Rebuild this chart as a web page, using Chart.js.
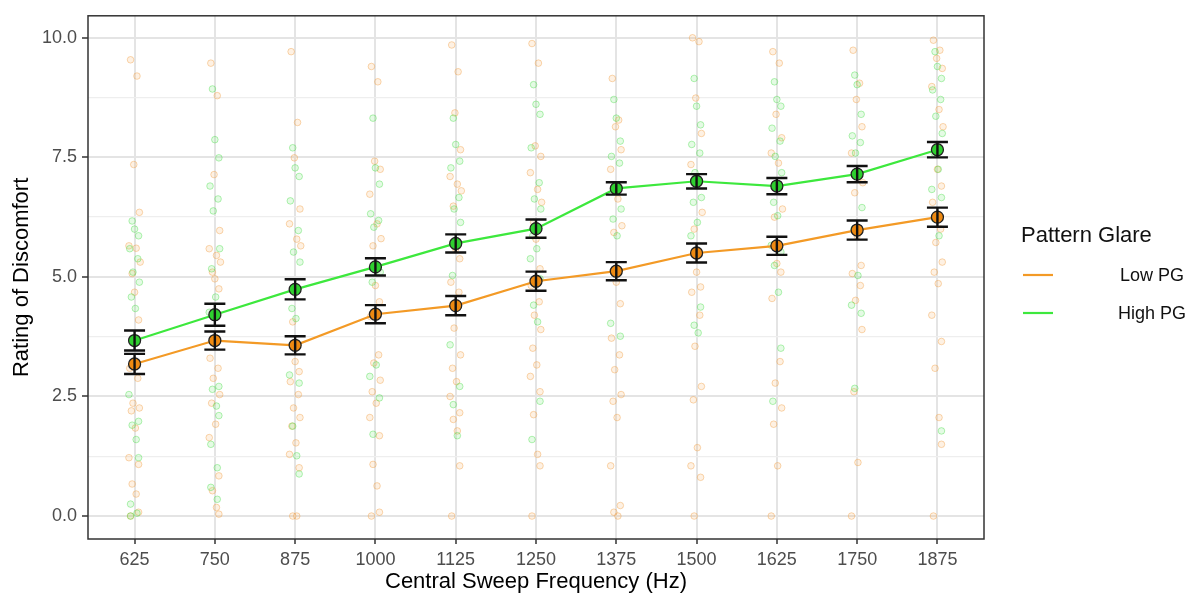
<!DOCTYPE html>
<html>
<head>
<meta charset="utf-8">
<script src="https://cdn.jsdelivr.net/npm/chart.js@4.4.1/dist/chart.umd.min.js"></script>
<style>
  html, body { margin: 0; padding: 0; background: #ffffff; }
  #wrap { width: 1197px; height: 597px; }
</style>
</head>
<body>
<div id="wrap"><canvas id="c" width="1197" height="597"></canvas></div>
<script>
// ---------- data ----------
const frequencies = ['625','750','875','1000','1125','1250','1375','1500','1625','1750','1875'];
const groups = ['Low PG', 'High PG'];
const legendTitle = 'Pattern Glare';

const lowMean  = [3.18, 3.67, 3.57, 4.22, 4.40, 4.91, 5.12, 5.50, 5.65, 5.98, 6.25];
const highMean = [3.67, 4.21, 4.74, 5.21, 5.70, 6.01, 6.85, 7.00, 6.90, 7.15, 7.66];
const lowSE    = [0.21, 0.19, 0.19, 0.19, 0.20, 0.20, 0.19, 0.20, 0.19, 0.20, 0.20];
const highSE   = [0.21, 0.23, 0.21, 0.18, 0.19, 0.19, 0.13, 0.15, 0.17, 0.17, 0.16];

const lowRaw = [
  [9.54,9.20,7.35,6.35,5.65,5.60,5.31,5.07,4.68,4.10,3.09,2.88,2.36,2.26,2.20,1.84,1.22,1.08,0.67,0.46,0.08,0.0],
  [9.47,8.79,7.14,5.97,5.59,5.45,5.31,5.10,4.96,4.75,3.30,3.09,2.88,2.54,2.36,1.92,1.64,0.84,0.53,0.18,0.04],
  [9.71,8.23,7.49,6.42,6.11,5.79,5.65,4.06,3.23,3.02,2.81,2.54,2.26,2.06,1.88,1.53,1.29,1.01,0.0,0.0],
  [9.40,9.08,7.42,7.25,6.73,6.11,5.80,5.65,4.82,4.48,4.17,3.37,3.20,2.84,2.60,2.36,2.06,1.68,1.08,0.63,0.08,0.0],
  [9.85,9.29,8.43,7.66,7.10,6.94,6.80,6.48,5.59,5.38,4.89,4.68,3.93,3.37,3.09,2.81,2.50,2.16,2.02,1.78,1.05,0.0],
  [9.88,9.47,7.74,7.52,7.18,6.83,6.56,6.14,5.79,5.17,4.82,4.48,4.20,3.90,3.51,3.16,2.92,2.60,2.12,1.29,1.05,0.0],
  [9.15,8.28,8.14,7.66,7.25,6.63,6.07,5.93,4.89,4.44,3.72,3.37,3.06,2.54,2.40,2.06,1.05,0.22,0.08,0.0],
  [10.0,9.92,8.74,8.00,7.35,6.97,6.35,6.00,5.10,4.79,4.68,4.20,3.55,2.71,2.43,1.43,1.05,0.81,0.0],
  [9.71,9.47,8.40,7.91,7.59,7.38,6.42,6.25,5.28,5.10,4.55,3.23,2.78,2.26,1.92,1.05,0.0],
  [9.74,9.05,8.71,8.14,7.59,7.10,6.97,6.76,5.86,5.24,5.07,4.82,4.51,3.90,2.60,1.12,0.0],
  [9.95,9.74,9.57,9.36,8.98,8.50,8.14,7.66,7.25,6.90,6.56,6.00,5.72,5.31,5.10,4.86,4.20,3.65,3.09,2.06,1.50,0.0]
];
const highRaw = [
  [6.17,6.00,5.86,5.59,5.38,5.10,4.89,4.58,4.34,2.54,1.98,1.90,1.60,1.22,0.25,0.06,0.0],
  [8.93,7.87,7.49,6.90,6.63,6.38,5.59,5.17,4.58,4.26,2.71,2.65,2.30,2.10,1.50,1.01,0.60,0.35],
  [7.70,7.28,7.10,6.59,5.97,5.52,5.31,4.34,4.13,2.95,2.78,1.88,1.26,0.88],
  [8.32,7.28,6.94,6.32,6.18,6.04,5.10,4.89,3.16,2.92,2.47,1.71],
  [8.32,7.77,7.42,7.28,6.66,6.42,6.14,5.03,4.41,3.58,2.71,2.33,1.68],
  [9.02,8.61,8.40,7.70,6.97,6.63,6.42,5.86,5.59,5.38,4.96,4.41,4.06,2.40,1.60],
  [8.71,8.32,7.84,7.52,7.38,6.80,6.42,6.21,5.86,4.03,3.76],
  [9.15,8.57,8.18,7.77,7.59,7.18,6.66,6.56,6.14,5.86,4.37,3.99,3.83],
  [9.08,8.71,8.57,8.11,7.84,7.52,7.18,6.56,6.28,5.66,5.52,5.24,4.68,3.51,2.40],
  [9.22,9.02,8.40,7.95,7.81,7.59,6.45,6.00,5.03,4.41,4.24,2.67],
  [9.71,9.40,9.15,8.91,8.71,8.36,8.00,7.59,7.25,6.83,6.66,6.21,5.86,1.78]
];

// horizontal jitter offsets (fractions of a category), cycled over the raw points
const jitterOffsets = [-0.05,0.03,-0.01,0.06,-0.07,0.02,0.07,-0.03,0.0,0.05,-0.06,0.04,-0.02,0.06,-0.04,0.01,-0.07,0.05,-0.03,0.02,0.05,-0.05,0.03];

// ---------- styling ----------
const FONT = "'Liberation Sans', Arial, Helvetica, sans-serif";
const ORANGE_LINE = '#f39a26', GREEN_LINE = '#3de83d';
const ORANGE_FILL = '#ee8a12', GREEN_FILL = '#2fd02f';

function rawPoints(raw, shift) {
  const pts = [];
  raw.forEach((vals, i) => vals.forEach((v, k) => {
    pts.push({ x: i + jitterOffsets[(k + shift) % jitterOffsets.length], y: v });
  }));
  return pts;
}
const meanPoints = arr => arr.map((v, i) => ({ x: i, y: v }));

const majorY = v => Math.abs(v / 2.5 - Math.round(v / 2.5)) < 1e-6;

const errorBars = {
  id: 'errorBars',
  afterDatasetsDraw(chart) {
    const ctx = chart.ctx, xs = chart.scales.x, ys = chart.scales.y;
    ctx.save();
    ctx.strokeStyle = '#111';
    ctx.lineWidth = 2.4;
    [[lowMean, lowSE], [highMean, highSE]].forEach(([m, se]) => {
      m.forEach((v, i) => {
        const px = xs.getPixelForValue(i);
        const y1 = ys.getPixelForValue(v - se[i]);
        const y2 = ys.getPixelForValue(v + se[i]);
        ctx.beginPath();
        ctx.moveTo(px, y1); ctx.lineTo(px, y2);
        ctx.moveTo(px - 10.5, y1); ctx.lineTo(px + 10.5, y1);
        ctx.moveTo(px - 10.5, y2); ctx.lineTo(px + 10.5, y2);
        ctx.stroke();
      });
    });
    ctx.restore();
  }
};

const panelAndLegend = {
  id: 'panelAndLegend',
  afterDraw(chart) {
    const ctx = chart.ctx, a = chart.chartArea;
    ctx.save();
    ctx.strokeStyle = '#333333';
    ctx.lineWidth = 1.5;
    ctx.strokeRect(a.left, a.top, a.right - a.left, a.bottom - a.top);

    // legend
    ctx.fillStyle = '#111';
    ctx.font = `22px ${FONT}`;
    ctx.textAlign = 'left';
    ctx.textBaseline = 'middle';
    ctx.fillText(legendTitle, 1021, 236);
    const keys = [[ORANGE_LINE, 275], [GREEN_LINE, 313]];
    ctx.font = `18px ${FONT}`;
    ctx.textAlign = 'center';
    groups.forEach((g, i) => {
      ctx.strokeStyle = keys[i][0];
      ctx.lineWidth = 2.2;
      ctx.beginPath();
      ctx.moveTo(1023, keys[i][1]); ctx.lineTo(1053, keys[i][1]);
      ctx.stroke();
      ctx.fillText(g, 1152, keys[i][1] + 1);
    });
    ctx.restore();
  }
};

new Chart(document.getElementById('c'), {
  type: 'scatter',
  data: {
    datasets: [
      {
        label: groups[0] + ' mean', data: meanPoints(lowMean), showLine: true, order: 2,
        borderColor: ORANGE_LINE, borderWidth: 2.2,
        pointRadius: 6, pointBackgroundColor: ORANGE_FILL, pointBorderColor: '#222', pointBorderWidth: 1.3
      },
      {
        label: groups[1] + ' mean', data: meanPoints(highMean), showLine: true, order: 1,
        borderColor: GREEN_LINE, borderWidth: 2.2,
        pointRadius: 6, pointBackgroundColor: GREEN_FILL, pointBorderColor: '#222', pointBorderWidth: 1.3
      },
      {
        label: groups[0] + ' raw', data: rawPoints(lowRaw, 0), order: 4,
        pointRadius: 3.3, pointBackgroundColor: 'rgba(246,170,80,0.16)',
        pointBorderColor: 'rgba(240,160,70,0.42)', pointBorderWidth: 1
      },
      {
        label: groups[1] + ' raw', data: rawPoints(highRaw, 7), order: 3,
        pointRadius: 3.3, pointBackgroundColor: 'rgba(90,230,90,0.16)',
        pointBorderColor: 'rgba(70,220,70,0.40)', pointBorderWidth: 1
      }
    ]
  },
  options: {
    responsive: false,
    animation: false,
    events: [],
    layout: { padding: { top: 14, right: 213, bottom: 0, left: 0 } },
    plugins: { legend: { display: false }, tooltip: { enabled: false } },
    scales: {
      x: {
        type: 'linear', min: -0.58, max: 10.58,
        afterBuildTicks: s => { s.ticks = frequencies.map((_, i) => ({ value: i })); },
        afterFit: s => { s.height = 58; },
        ticks: {
          autoSkip: false, maxRotation: 0, padding: 5,
          color: '#4d4d4d', font: { family: FONT, size: 18 },
          callback: v => frequencies[Math.round(v)]
        },
        grid: { color: '#e4e4e4', lineWidth: 2, tickLength: 5, tickColor: '#333333', tickWidth: 1.5 },
        border: { display: false },
        title: {
          display: true, text: 'Central Sweep Frequency (Hz)', color: '#000',
          font: { family: FONT, size: 22 }, padding: { top: 0, bottom: 2 }
        }
      },
      y: {
        type: 'linear', min: -0.48, max: 10.46,
        afterBuildTicks: s => { s.ticks = [0,1.25,2.5,3.75,5,6.25,7.5,8.75,10].map(v => ({ value: v })); },
        afterFit: s => { s.width = 88; },
        ticks: {
          autoSkip: false, padding: 5,
          color: '#4d4d4d', font: { family: FONT, size: 18 },
          callback: v => majorY(v) ? v.toFixed(1) : ''
        },
        grid: {
          color: c => majorY(c.tick.value) ? '#e4e4e4' : '#eeeeee',
          lineWidth: c => majorY(c.tick.value) ? 2 : 1.3,
          tickLength: 6,
          tickColor: c => majorY(c.tick.value) ? '#333333' : 'rgba(0,0,0,0)',
          tickWidth: 1.5
        },
        border: { display: false },
        title: {
          display: true, text: 'Rating of Discomfort', color: '#000',
          font: { family: FONT, size: 22 }, padding: { top: 9, bottom: 0 }
        }
      }
    }
  },
  plugins: [errorBars, panelAndLegend]
});
</script>
</body>
</html>
